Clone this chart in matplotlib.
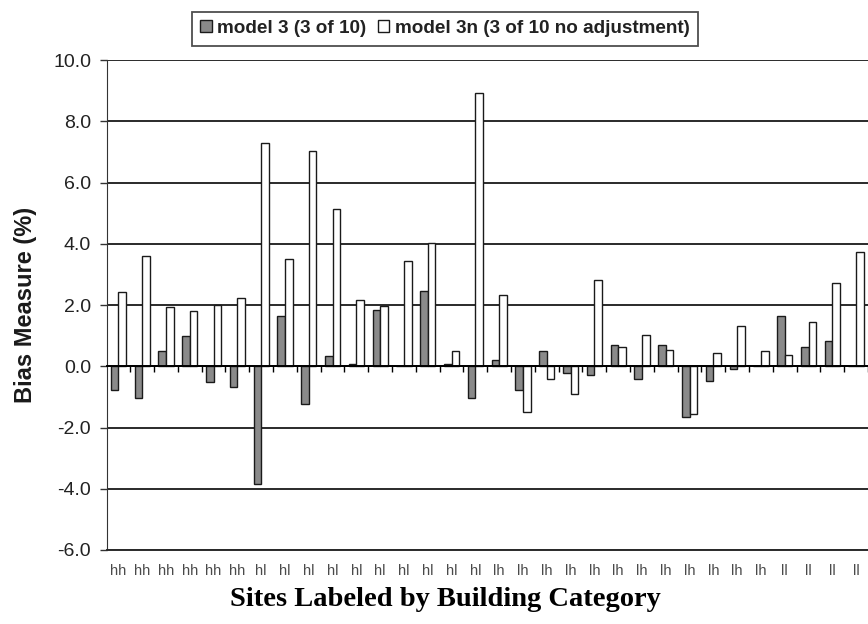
import matplotlib.pyplot as plt
import numpy as np

# site categories along the x axis
categories = ['hh'] * 6 + ['hl'] * 10 + ['lh'] * 12 + ['ll'] * 4

# bias measure (%) per site
model3 = [-0.76, -1.03, 0.51, 1.00, -0.51, -0.68, -3.83, 1.63, -1.22, 0.35,
          0.09, 1.83, 0.00, 2.45, 0.08, -1.03, 0.22, -0.76, 0.51, -0.22,
          -0.29, 0.70, -0.41, 0.70, -1.67, -0.48, -0.10, 0.00, 1.63, 0.64,
          0.81, 0.00]
model3n = [2.43, 3.59, 1.94, 1.82, 2.00, 2.23, 7.29, 3.51, 7.02, 5.14,
           2.15, 1.98, 3.43, 4.04, 0.50, 8.92, 2.33, -1.49, -0.41, -0.92,
           2.83, 0.64, 1.02, 0.53, -1.57, 0.44, 1.33, 0.51, 0.36, 1.44,
           2.73, 3.72]

yticks = [-6, -4, -2, 0, 2, 4, 6, 8, 10]

plt.rcParams['font.family'] = ['Liberation Sans', 'DejaVu Sans']

fig = plt.figure(figsize=(8.68, 6.24), dpi=100)
ax = fig.add_axes([0.1227, 0.1186, 0.8773, 0.7852])

x = np.arange(len(categories))
w = 0.32
b1 = ax.bar(x - w / 2, model3, w, color='#8a8a8a', edgecolor='#1a1a1a',
            linewidth=1.0, label='model 3 (3 of 10)', zorder=3)
b2 = ax.bar(x + w / 2, model3n, w, color='white', edgecolor='#1a1a1a',
            linewidth=1.0, label='model 3n (3 of 10 no adjustment)', zorder=3)

ax.set_xlim(-0.5, len(categories) - 0.5)
ax.set_ylim(-6, 10)
ax.set_yticks(yticks)
ax.set_yticklabels([f'{v:.1f}' for v in yticks], fontsize=14, color='#222222')
ax.yaxis.grid(True, color='#2a2a2a', linewidth=1.4)
ax.set_axisbelow(True)
ax.tick_params(axis='y', direction='out', length=5, width=1, color='#333333', pad=6)

ax.set_xticks(x)
ax.set_xticklabels(categories, fontsize=10.5, color='#4a4a4a')
ax.tick_params(axis='x', length=0, pad=10)

for s in ['top', 'right']:
    ax.spines[s].set_visible(False)
ax.spines['left'].set_color('#333333')
ax.spines['bottom'].set_color('#2a2a2a')
ax.spines['bottom'].set_linewidth(1.4)

# category axis at zero with ticks between sites
ax2 = ax.twiny()
ax2.set_xlim(ax.get_xlim())
ax2.spines['bottom'].set_position(('data', 0))
for s in ['top', 'right', 'left']:
    ax2.spines[s].set_visible(False)
ax2.spines['bottom'].set_color('black')
ax2.spines['bottom'].set_linewidth(1.4)
ax2.xaxis.set_ticks_position('bottom')
ax2.set_xticks(np.arange(len(categories)) + 0.5)
ax2.set_xticklabels([])
ax2.tick_params(axis='x', direction='out', length=4, width=1, color='black')
ax2.set_zorder(ax.get_zorder() + 1)
ax2.patch.set_visible(False)

ax.set_ylabel('Bias Measure (%)', fontsize=17, fontweight='bold', color='#1a1a1a', labelpad=12)
fig.text(445 / 868, 1 - 600 / 624, 'Sites Labeled by Building Category',
         ha='center', va='center', fontsize=20.5, fontweight='bold',
         family=['Liberation Serif', 'DejaVu Serif'], color='black')

leg = ax.legend(handles=[b1, b2], loc='center', bbox_to_anchor=(445 / 868, 1 - 28.5 / 624),
                bbox_transform=fig.transFigure, ncol=2, fancybox=False, frameon=True,
                edgecolor='#222222', handlelength=0.6, handleheight=0.6,
                columnspacing=0.6, handletextpad=0.3, borderpad=0.45,
                prop={'size': 13.6, 'weight': 'bold'})
leg.get_frame().set_linewidth(1.3)
for t in leg.get_texts():
    t.set_color('#222222')

fig.savefig('out.png', dpi=100)
